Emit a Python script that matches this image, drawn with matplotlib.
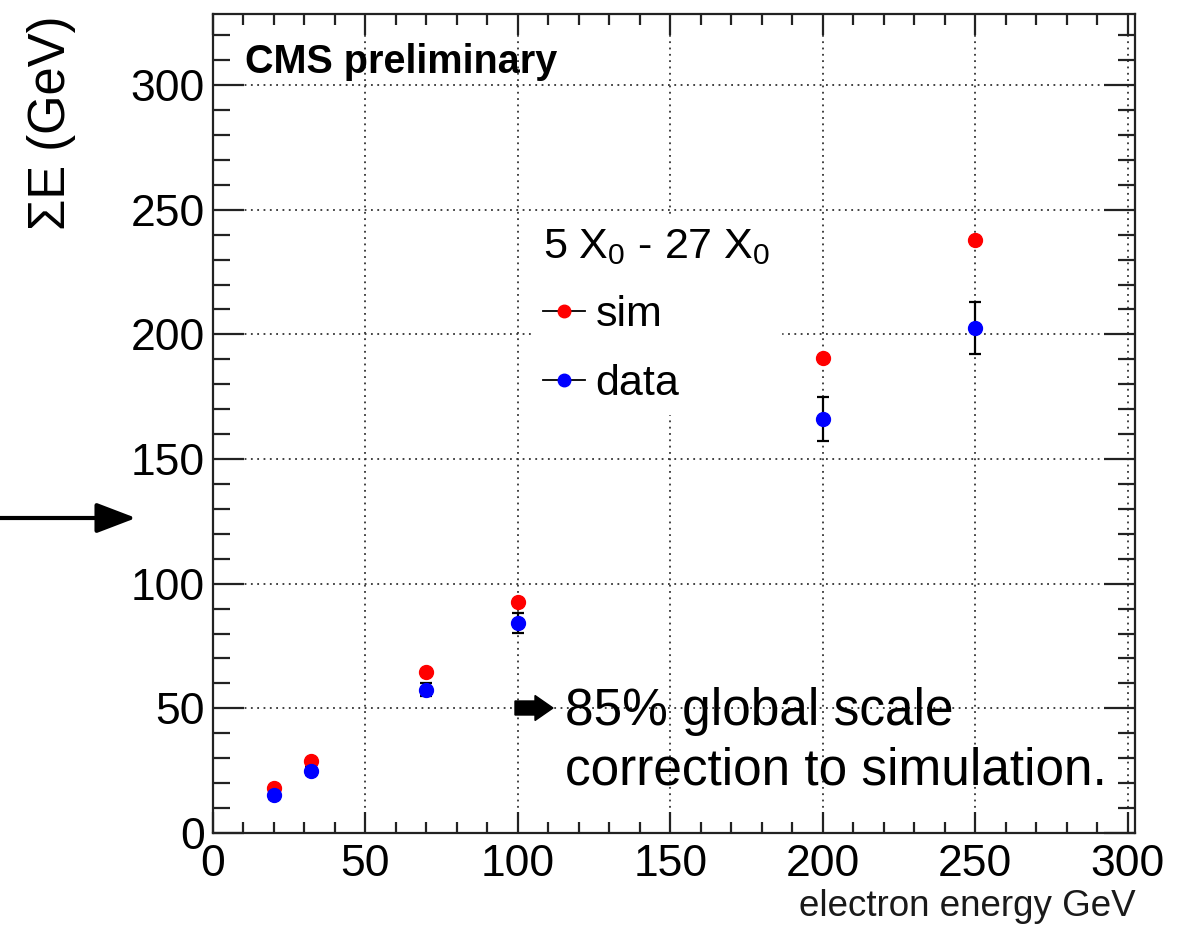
import matplotlib
matplotlib.use('Agg')
import matplotlib.pyplot as plt
from matplotlib.lines import Line2D
import matplotlib.patches as mpatches
from matplotlib.ticker import MultipleLocator

plt.rcParams['font.family'] = ['Liberation Sans', 'DejaVu Sans']
plt.rcParams['mathtext.fontset'] = 'custom'
plt.rcParams['mathtext.rm'] = 'Liberation Sans'
plt.rcParams['mathtext.it'] = 'Liberation Sans:italic'
plt.rcParams['mathtext.default'] = 'regular'

# ---- data ----
energy = [20, 32, 70, 100, 200, 250]
sim_sum = [18.0, 28.7, 64.7, 92.8, 190.7, 238.0]
data_sum = [15.2, 24.9, 57.5, 84.2, 166.2, 202.5]
data_err = [1.5, 1.5, 2.5, 4.0, 8.8, 10.3]
x_ticks = [0, 50, 100, 150, 200, 250, 300]
y_ticks = [0, 50, 100, 150, 200, 250, 300]
legend_title = r'5 X$_0$ - 27 X$_0$'
legend_labels = ['sim', 'data']

W, H = 1197, 939
fig = plt.figure(figsize=(W / 100, H / 100), dpi=100)
ax = fig.add_axes([213 / W, 1 - 833 / H, (1135 - 213) / W, (833 - 14) / H])
ax.set_xlim(0, 302.4)
ax.set_ylim(0, 328.5)

# grid
ax.set_xticks(x_ticks)
ax.set_yticks(y_ticks)
ax.xaxis.set_minor_locator(MultipleLocator(10))
ax.yaxis.set_minor_locator(MultipleLocator(10))
ax.grid(True, which='major', color='#333333', linestyle=(0, (1, 2.5)), linewidth=1.3, zorder=0)
ax.set_axisbelow(True)

for s in ax.spines.values():
    s.set_linewidth(1.6)
    s.set_color('#222222')

ax.tick_params(axis='both', which='both', direction='in', top=True, right=True,
               width=1.6, color='#222222')
ax.tick_params(axis='x', which='major', length=15, labelsize=32, pad=8)
ax.tick_params(axis='x', which='minor', length=8)
ax.tick_params(axis='y', which='major', length=22, labelsize=32, pad=6)
ax.tick_params(axis='y', which='minor', length=12)

# points
ax.errorbar(energy, sim_sum, fmt='o', color='red', markersize=10, zorder=4)
ax.errorbar(energy, data_sum, yerr=data_err, fmt='o', color='blue', markersize=10,
            ecolor='black', elinewidth=1.6, capsize=4, capthick=1.6, zorder=4)

# legend
handles = [
    Line2D([], [], color='black', linewidth=1.3, marker='o', markersize=9,
           markerfacecolor='red', markeredgecolor='red'),
    Line2D([], [], color='black', linewidth=1.3, marker='o', markersize=9,
           markerfacecolor='blue', markeredgecolor='blue'),
]
leg = ax.legend(handles, legend_labels, title=legend_title, loc='upper left',
                bbox_to_anchor=(532 / W, 1 - 216 / H), bbox_transform=fig.transFigure,
                fontsize=31, title_fontsize=31, frameon=True, fancybox=False,
                edgecolor='white', facecolor='white', framealpha=1.0,
                handlelength=0.98, handletextpad=0.25, labelspacing=0.66,
                borderpad=0.25, borderaxespad=0, alignment='left')
leg.set_zorder(3)

# texts
fig.text(245 / W, 1 - 62 / H, 'CMS preliminary', fontsize=28.5, fontweight='bold',
         ha='left', va='center')
fig.text(52 / W, 1 - 16 / H, 'ΣE (GeV)', fontsize=36.5, rotation=90, ha='center', va='top')
fig.text(1136 / W, 1 - 907 / H, 'electron energy GeV', fontsize=26.5, color='#1a1a1a',
         ha='right', va='center')
fig.text(565 / W, 1 - 741 / H, '85% global scale\ncorrection to simulation.',
         fontsize=37, ha='left', va='center', linespacing=1.27)

# left thin arrow
ax.annotate('', xy=(136 / W, 1 - 518 / H), xytext=(0, 1 - 518 / H),
            xycoords='figure fraction', textcoords='figure fraction',
            arrowprops=dict(arrowstyle='-|>,head_length=1.1,head_width=0.42',
                            color='black', linewidth=3, shrinkA=0, shrinkB=0,
                            mutation_scale=22),
            annotation_clip=False)

# thick arrow before the note
arr = mpatches.FancyArrow(515 / 100, (H - 708) / 100, 0.38, 0, width=0.14,
                          head_width=0.25, head_length=0.18, length_includes_head=True,
                          color='black', transform=fig.dpi_scale_trans)
fig.patches.append(arr)

fig.savefig('out.png', dpi=100)
